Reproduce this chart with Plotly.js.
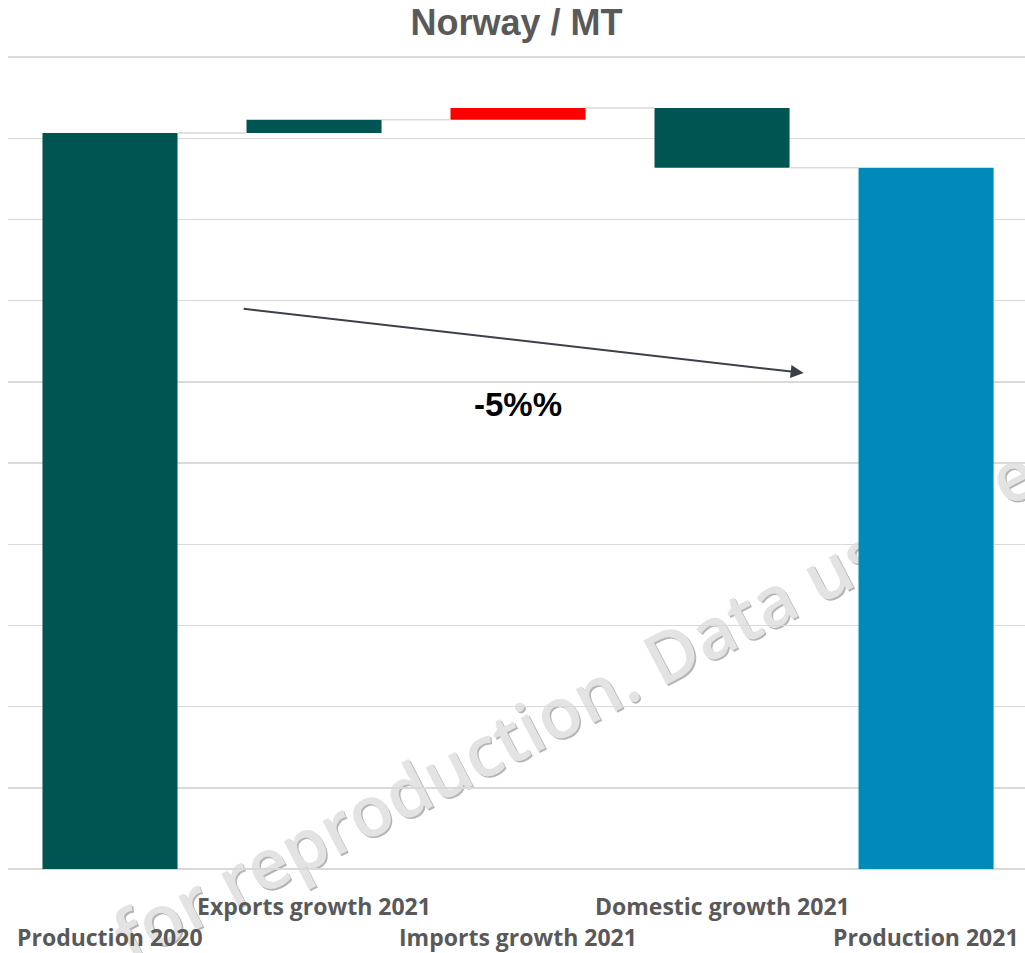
<!DOCTYPE html>
<html>
<head>
<meta charset="utf-8">
<script src="https://cdn.plot.ly/plotly-3.0.1.min.js"></script>
<style>html,body{margin:0;padding:0;background:#fff;}#chart{width:1025px;height:953px;}</style>
</head>
<body>
<div id="chart"></div>
<script>
// ---- data ----
var categories = ["Production 2020", "Exports growth 2021", "Imports growth 2021", "Domestic growth 2021", "Production 2021"];
var values = [906.4, 16.5, 14.3, -73.6, 863.6];
var measures = ["absolute", "relative", "relative", "relative", "total"];
var barColors = ["#005552", "#005552", "#FF0000", "#005552", "#008AB9"];
var labelRow = [1, 0, 1, 0, 1]; // 0 = upper row, 1 = lower row
var changeLabel = "-5%%";
var titleText = "Norway / MT";
var watermark = "for reproduction. Data used re";

// ---- build waterfall pieces from the data ----
var xs = categories.map(function (c, i) { return i; });
var bases = [], heights = [], running = 0, levels = [];
for (var i = 0; i < values.length; i++) {
  if (measures[i] === "absolute") { bases.push(0); heights.push(values[i]); running = values[i]; }
  else if (measures[i] === "total") { bases.push(0); heights.push(running); }
  else { bases.push(running); heights.push(values[i]); running += values[i]; }
  levels.push(running);
}
var barWidth = 0.662;
var cx = [], cy = [];
for (var j = 0; j < values.length - 1; j++) {
  cx.push(j + barWidth / 2, j + 1 - barWidth / 2, null);
  cy.push(levels[j], levels[j], null);
}

var traces = [
  {
    type: "bar", x: xs, y: heights, base: bases, width: barWidth,
    marker: { color: barColors, line: { width: 0 } },
    hoverinfo: "skip", showlegend: false
  },
  {
    type: "scatter", mode: "lines", x: cx, y: cy,
    line: { color: "#d9d9d9", width: 1.5 },
    hoverinfo: "skip", showlegend: false
  }
];

var labelFont = { family: "Open Sans, DejaVu Sans, sans-serif", size: 23, color: "#595959", weight: "bold" };
var annotations = categories.map(function (c, i) {
  return {
    x: xs[i], xref: "x", y: labelRow[i] === 0 ? -0.0451 : -0.0829, yref: "paper",
    text: c, showarrow: false, xanchor: "center", yanchor: "middle", font: labelFont
  };
});
annotations.push({
  x: 3.40, y: 611, xref: "x", yref: "y",
  ax: 0.648, ay: 690.3, axref: "x", ayref: "y",
  text: "", showarrow: true, arrowhead: 2, arrowsize: 1.3, arrowwidth: 2, arrowcolor: "#3b4048", standoff: 0
});
annotations.push({
  x: 2.0, y: 572.4, xref: "x", yref: "y", text: changeLabel, showarrow: false,
  xanchor: "center", yanchor: "middle",
  font: { family: "Liberation Sans, Arial, sans-serif", size: 33, color: "#000000", weight: "bold" }
});

function wmShape(dx, dy, color) {
  var cxp = 0.5585 + dx, cyp = 0.1975 + dy;
  return {
    type: "line", xref: "paper", yref: "paper", layer: "below",
    x0: cxp - 0.09, y0: cyp - 0.058, x1: cxp + 0.09, y1: cyp + 0.058,
    line: { color: "rgba(0,0,0,0)", width: 1 },
    label: {
      text: watermark, textangle: -27.5, textposition: "middle",
      xanchor: "center", yanchor: "middle",
      font: { family: "Open Sans, DejaVu Sans, sans-serif", size: 70, color: color, weight: 600 }
    }
  };
}

var layout = {
  width: 1025, height: 953,
  margin: { l: 8, r: 0, t: 48.6, b: 84, pad: 0 },
  paper_bgcolor: "#ffffff", plot_bgcolor: "rgba(0,0,0,0)",
  title: {
    text: titleText, x: 0.5, xanchor: "center", y: 0.977, yanchor: "middle", xref: "paper",
    font: { family: "Liberation Sans, Arial, sans-serif", size: 36, color: "#595959", weight: "bold" }
  },
  xaxis: {
    range: [-0.5, 4.485], showticklabels: false, showgrid: false, zeroline: false,
    showline: false, ticks: "", fixedrange: true
  },
  yaxis: {
    range: [0, 1010], dtick: 100, tick0: 0, showticklabels: false, showgrid: true,
    gridcolor: "#d9d9d9", gridwidth: 1.5, zeroline: true, zerolinecolor: "#d9d9d9", zerolinewidth: 1.5,
    showline: false, ticks: "", fixedrange: true
  },
  barmode: "overlay",
  showlegend: false,
  hovermode: false,
  annotations: annotations,
  shapes: [wmShape(0.0016, -0.0019, "#b5b5b5"), wmShape(0, 0, "#e3e3e3")]
};

Plotly.newPlot("chart", traces, layout, { displayModeBar: false, staticPlot: true });
</script>
</body>
</html>
